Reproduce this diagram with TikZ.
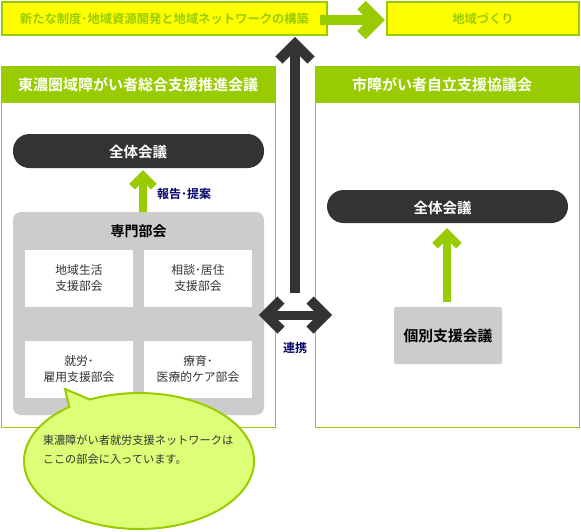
\documentclass[tikz,border=0pt]{standalone}
\usepackage{fontspec}
\setmainfont{Noto Sans CJK JP}[BoldFont={Noto Sans CJK JP Bold}]
\usetikzlibrary{shapes.callouts,calc}
\definecolor{lgreen}{HTML}{99CC00}
\definecolor{yel}{HTML}{FFFF00}
\definecolor{dark}{HTML}{333333}
\definecolor{lgray}{HTML}{CCCCCC}
\definecolor{navy}{HTML}{000066}
\definecolor{cfill}{HTML}{DDFF77}
\tikzset{
  ybox/.style={draw=lgreen, line width=2pt, fill=yel, inner sep=0pt, text=lgreen, font=\bfseries\fontsize{12.3}{14}\selectfont},
  bigbox/.style={draw=lgreen, line width=1pt, fill=white, inner sep=0pt},
  header/.style={fill=lgreen, inner sep=0pt},
  headtext/.style={text=white, font=\bfseries\fontsize{15}{18}\selectfont, inner sep=0pt},
  pill/.style={fill=dark, rounded corners=16.5pt, inner sep=0pt},
  pilltext/.style={text=white, font=\bfseries\fontsize{14.5}{17}\selectfont, inner sep=0pt},
  graybox/.style={fill=lgray, rounded corners=8pt, inner sep=0pt},
  subbox/.style={fill=white, inner sep=0pt, minimum width=108pt, minimum height=57pt, align=center, text=dark, font=\fontsize{11.8}{16}\selectfont},
  lbl/.style={text=navy, font=\bfseries\fontsize{12}{14}\selectfont, inner sep=0pt},
  garrow/.style={draw=lgreen, line join=miter},
  darrow/.style={draw=dark, line join=miter},
}
\begin{document}
\begin{tikzpicture}[x=1pt,y=-1pt]
\useasboundingbox (0,0) rectangle (581,531);

% top boxes
\node[ybox, minimum width=325pt, minimum height=33pt] (y1) at (164.5,18.5) {新たな制度･地域資源開発と地域ネットワークの構築};
\node[ybox, minimum width=192pt, minimum height=33pt] (y2) at (483,18.5) {地域づくり};

% top green arrow
\coordinate (gtip) at (385,20);
\draw[garrow, line width=10pt] ([xshift=-8pt]y1.east |- gtip) -- ($(gtip)+(-8.5,0)$);
\draw[garrow, line width=12pt] ($(gtip)+(-23.5,-15)$) -- ($(gtip)+(-8.5,0)$) -- ($(gtip)+(-23.5,15)$);

% left column
\node[bigbox, minimum width=274pt, minimum height=361pt] (L) at (138.5,247) {};
\node[header, minimum width=275pt, minimum height=37pt] (Lh) at (138.5,84.5) {};
\node[headtext] (Lht) at (138,85) {東濃圏域障がい者総合支援推進会議};
\node[pill, minimum width=251pt, minimum height=34pt] (Lp) at (138.5,151) {};
\node[pilltext] (Lpt) at (138,152) {全体会議};
\node[graybox, minimum width=251pt, minimum height=203pt] (G) at (138.5,313.5) {};
\node[inner sep=0pt, font=\bfseries\fontsize{14}{16}\selectfont] (Gt) at (138.5,231) {専門部会};
\node[subbox] (b1) at (79,278.5) {地域生活\\支援部会};
\node[subbox] (b2) at (198,278.5) {相談･居住\\支援部会};
\node[subbox] (b3) at (79,369.5) {就労･\\雇用支援部会};
\node[subbox] (b4) at (198,369.5) {療育･\\医療的ケア部会};

% left green arrow
\coordinate (ltip) at (143,170);
\draw[garrow, line width=8pt] ($(ltip)+(0,5.7)$) -- (G.north -| ltip);
\draw[garrow, line width=8pt] ($(ltip)+(-11,16.7)$) -- ($(ltip)+(0,5.7)$) -- ($(ltip)+(11,16.7)$);
\node[lbl] (rep) at (184,194) {報告･提案};

% right column
\node[bigbox, minimum width=264pt, minimum height=361pt] (R) at (447.5,247) {};
\node[header, minimum width=265pt, minimum height=37pt] (Rh) at (447.5,84.5) {};
\node[headtext] (Rht) at (442,85) {市障がい者自立支援協議会};
\node[pill, minimum width=241pt, minimum height=33pt] (Rp) at (447.5,206.5) {};
\node[pilltext] (Rpt) at (442.5,207.5) {全体会議};
\node[fill=lgray, rounded corners=2pt, inner sep=0pt, minimum width=108pt, minimum height=57pt, font=\bfseries\fontsize{14.8}{17}\selectfont] (K) at (448,335.5) {個別支援会議};

% right green arrow
\coordinate (rtip) at (447,228);
\draw[garrow, line width=8pt] ($(rtip)+(0,5.7)$) -- ($(K.north -| rtip)+(0,-5)$);
\draw[garrow, line width=8pt] ($(rtip)+(-12,17.7)$) -- ($(rtip)+(0,5.7)$) -- ($(rtip)+(12,17.7)$);

% dark vertical arrow
\coordinate (vtip) at (295,37);
\coordinate (vend) at (295,293);
\draw[darrow, line width=10pt] ($(vtip)+(0,7)$) -- (vend);
\draw[darrow, line width=10pt] ($(vtip)+(-16,23)$) -- ($(vtip)+(0,7)$) -- ($(vtip)+(16,23)$);

% dark horizontal double arrow
\coordinate (hl) at (259,315);
\coordinate (hr) at (332,315);
\draw[darrow, line width=9pt] ($(hl)+(7,0)$) -- ($(hr)+(-7,0)$);
\draw[darrow, line width=10pt] ($(hl)+(22,-15)$) -- ($(hl)+(7,0)$) -- ($(hl)+(22,15)$);
\draw[darrow, line width=10pt] ($(hr)+(-22,-15)$) -- ($(hr)+(-7,0)$) -- ($(hr)+(-22,15)$);
\node[lbl] (ren) at (295,348) {連携};

% callout
\node[ellipse callout, draw=lgreen, line width=2pt, fill=cfill, inner sep=0pt,
      minimum width=230pt, minimum height=136pt, callout absolute pointer={(65,389)}, callout pointer arc=12] (C) at (139,461) {};
\node[inner sep=0pt, align=left, text=dark, font=\fontsize{11.2}{19}\selectfont] (Ct) at (138,449.5) {東濃障がい者就労支援ネットワークは\\ここの部会に入っています。};
\end{tikzpicture}
\end{document}
